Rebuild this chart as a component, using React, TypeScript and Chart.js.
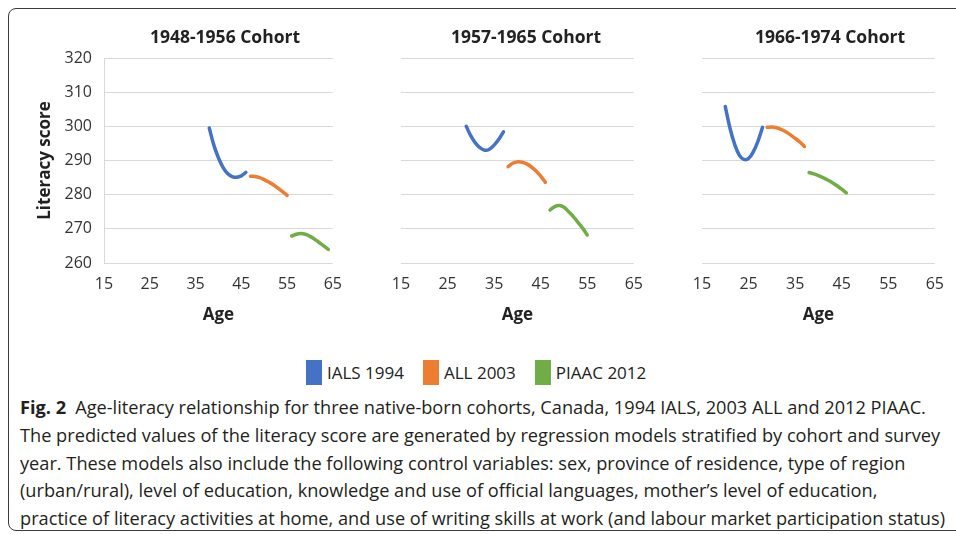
import React, { useEffect, useRef } from "react";
import { Chart, registerables } from "chart.js";

Chart.register(...registerables);

// ---------- data ----------
const cohortTitles = ["1948-1956 Cohort", "1957-1965 Cohort", "1966-1974 Cohort"];
const seriesNames = ["IALS 1994", "ALL 2003", "PIAAC 2012"];
const seriesColors = ["#4472C4", "#ED7D31", "#70AD47"];
const xTicks = [15, 25, 35, 45, 55, 65];
const yTicks = [260, 270, 280, 290, 300, 310, 320];

// Cohort 1948-1956
const c1AgesIALS = [38, 39, 40, 41, 42, 43, 44, 45, 46];
const c1IALS = [299.5, 294.5, 290.8, 288.0, 286.2, 285.3, 285.1, 285.5, 286.5];
const c1AgesALL = [47, 48, 49, 50, 51, 52, 53, 54, 55];
const c1ALL = [285.4, 285.3, 285.0, 284.4, 283.7, 282.9, 281.9, 280.9, 279.8];
const c1AgesPIAAC = [56, 57, 58, 59, 60, 61, 62, 63, 64];
const c1PIAAC = [267.9, 268.4, 268.6, 268.4, 267.8, 267.0, 266.0, 265.0, 264.0];

// Cohort 1957-1965
const c2AgesIALS = [29, 30, 31, 32, 33, 34, 35, 36, 37];
const c2IALS = [300.0, 297.2, 295.1, 293.7, 293.0, 293.3, 294.5, 296.2, 298.4];
const c2AgesALL = [38, 39, 40, 41, 42, 43, 44, 45, 46];
const c2ALL = [288.2, 289.2, 289.6, 289.5, 289.0, 288.1, 286.9, 285.4, 283.6];
const c2AgesPIAAC = [47, 48, 49, 50, 51, 52, 53, 54, 55];
const c2PIAAC = [275.5, 276.5, 276.8, 276.3, 275.0, 273.6, 271.9, 270.2, 268.2];

// Cohort 1966-1974
const c3AgesIALS = [20, 21, 22, 23, 24, 25, 26, 27, 28];
const c3IALS = [305.8, 299.5, 294.8, 291.6, 290.3, 290.6, 292.5, 295.6, 299.7];
const c3AgesALL = [29, 30, 31, 32, 33, 34, 35, 36, 37];
const c3ALL = [299.7, 299.8, 299.6, 299.1, 298.4, 297.5, 296.5, 295.4, 294.1];
const c3AgesPIAAC = [38, 39, 40, 41, 42, 43, 44, 45, 46];
const c3PIAAC = [286.5, 286.1, 285.6, 285.0, 284.3, 283.5, 282.6, 281.6, 280.5];

const panelSeries = [
  [[c1AgesIALS, c1IALS], [c1AgesALL, c1ALL], [c1AgesPIAAC, c1PIAAC]],
  [[c2AgesIALS, c2IALS], [c2AgesALL, c2ALL], [c2AgesPIAAC, c2PIAAC]],
  [[c3AgesIALS, c3IALS], [c3AgesALL, c3ALL], [c3AgesPIAAC, c3PIAAC]],
];

const captionLines = [
  "Age-literacy relationship for three native-born cohorts, Canada, 1994 IALS, 2003 ALL and 2012 PIAAC.",
  "The predicted values of the literacy score are generated by regression models stratified by cohort and survey",
  "year. These models also include the following control variables: sex, province of residence, type of region",
  "(urban/rural), level of education, knowledge and use of official languages, mother\u2019s level of education,",
  "practice of literacy activities at home, and use of writing skills at work (and labour market participation status)",
];

// ---------- layout ----------
const FONT = "'Open Sans', 'Noto Sans', sans-serif";
const CANVAS_TOP = 20;
const CANVAS_H = 320;
const panels = [
  { left: 20, width: 334, yWidth: 84, padRight: 19, first: true, titleX: 225 },
  { left: 355, width: 300, yWidth: 46, padRight: 21, first: false, titleX: 526 },
  { left: 656, width: 300, yWidth: 46, padRight: 21, first: false, titleX: 830 },
];

function Panel({ idx }: { idx: number }) {
  const ref = useRef<HTMLCanvasElement | null>(null);
  const p = panels[idx];
  useEffect(() => {
    if (!ref.current) return;
    const datasets = panelSeries[idx].map(([ages, vals], s) => ({
      label: seriesNames[s],
      data: ages.map((a, i) => ({ x: a, y: vals[i] })),
      borderColor: seriesColors[s],
      backgroundColor: seriesColors[s],
      borderWidth: 3.5,
      pointRadius: 0,
      tension: 0.4,
      borderCapStyle: "round" as const,
      fill: false,
    }));
    const chart = new Chart(ref.current, {
      type: "line",
      data: { datasets },
      options: {
        animation: false,
        responsive: false,
        devicePixelRatio: 1,
        layout: { padding: { top: 38, right: p.padRight, bottom: 0, left: 0 } },
        plugins: { legend: { display: false }, tooltip: { enabled: false }, title: { display: false } },
        scales: {
          x: {
            type: "linear",
            min: 15,
            max: 65,
            afterBuildTicks: (axis: any) => {
              axis.ticks = xTicks.map((v) => ({ value: v }));
            },
            afterFit: (axis: any) => {
              axis.height = 77;
            },
            grid: { display: false, drawTicks: false },
            border: { display: false },
            ticks: { color: "#333", font: { family: FONT, size: 16 }, padding: 12, maxRotation: 0 },
            title: {
              display: true,
              text: "Age",
              color: "#222",
              font: { family: FONT, size: 17, weight: "bold" },
              padding: { top: 0, bottom: 15 },
            },
          },
          y: {
            type: "linear",
            min: 260,
            max: 320,
            afterBuildTicks: (axis: any) => {
              axis.ticks = yTicks.map((v) => ({ value: v }));
            },
            afterFit: (axis: any) => {
              axis.width = p.yWidth;
            },
            grid: { color: "#D9D9D9", lineWidth: 1, drawTicks: false },
            border: { display: p.first, color: "#D9D9D9", width: 1 },
            ticks: { display: p.first, color: "#333", font: { family: FONT, size: 16 }, padding: 12 },
            title: {
              display: p.first,
              text: "Literacy score",
              color: "#222",
              font: { family: FONT, size: 17, weight: "bold" },
              padding: { top: 15, bottom: 0 },
            },
          },
        },
      },
    });
    return () => chart.destroy();
  }, [idx]);
  return (
    <>
      <canvas
        ref={ref}
        width={p.width}
        height={CANVAS_H}
        style={{ position: "absolute", left: p.left, top: CANVAS_TOP, width: p.width, height: CANVAS_H }}
      />
      <div
        style={{
          position: "absolute",
          left: p.titleX - 150,
          width: 300,
          top: 24,
          textAlign: "center",
          fontFamily: FONT,
          fontWeight: 700,
          fontSize: 17.5,
          lineHeight: "24px",
          color: "#222",
          whiteSpace: "nowrap",
        }}
      >
        {cohortTitles[idx]}
      </div>
    </>
  );
}

export default function App() {
  return (
    <div
      style={{
        position: "fixed",
        left: 0,
        top: 0,
        width: 956,
        height: 534,
        overflow: "hidden",
        background: "#fff",
      }}
    >
      <div
        style={{
          position: "absolute",
          left: 8,
          top: 8,
          width: 980,
          height: 523,
          border: "1px solid #3a3a3a",
          borderRadius: 8,
          boxSizing: "border-box",
        }}
      />
      {panels.map((_, i) => (
        <Panel key={i} idx={i} />
      ))}
      <div
        style={{
          position: "absolute",
          left: 306,
          top: 360,
          display: "flex",
          alignItems: "center",
          fontFamily: FONT,
          fontSize: 17,
          color: "#222",
          whiteSpace: "nowrap",
        }}
      >
        {seriesNames.map((n, i) => (
          <div key={n} style={{ display: "flex", alignItems: "center", marginRight: i < 2 ? 19 : 0 }}>
            <div style={{ width: 16, height: 25, background: seriesColors[i], marginRight: 5 }} />
            <span>{n}</span>
          </div>
        ))}
      </div>
      <div
        style={{
          position: "absolute",
          left: 20,
          top: 394,
          fontFamily: FONT,
          fontSize: 18.2,
          lineHeight: "27.75px",
          color: "#231f20",
          whiteSpace: "nowrap",
        }}
      >
        {captionLines.map((l, i) => (
          <div key={i}>
            {i === 0 && <b style={{ fontWeight: 700, marginRight: 9 }}>Fig. 2</b>}
            {l}
          </div>
        ))}
      </div>
    </div>
  );
}
